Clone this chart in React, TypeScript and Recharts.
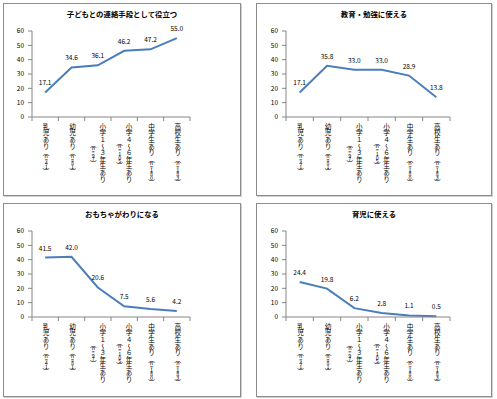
import { LineChart, Line, XAxis, YAxis, LabelList } from 'recharts';

// 子どもの年齢層別（あり）
const CATEGORIES = [
  '乳児あり（n=41）',
  '幼児あり（n=81）',
  '小学１～３年生あり\n（n=97）',
  '小学４～６年生あり\n（n=105）',
  '中学生あり（n=180）',
  '高校生あり（n=183）',
];

const TITLES = ['子どもとの連絡手段として役立つ', '教育・勉強に使える', 'おもちゃがわりになる', '育児に使える'];

const CONTACT = [17.1, 34.6, 36.1, 46.2, 47.2, 55.0];
const STUDY = [17.1, 35.8, 33.0, 33.0, 28.9, 13.8];
const TOY = [41.5, 42.0, 20.6, 7.5, 5.6, 4.2];
const PARENTING = [24.4, 19.8, 6.2, 2.8, 1.1, 0.5];

const Y_TICKS = [0, 10, 20, 30, 40, 50, 60];

const FONT = "'Noto Sans CJK JP', 'Noto Sans', sans-serif";
const LINE_COLOR = '#4a7ebb';
const AXIS_COLOR = '#868686';

const PANELS = [
  { title: TITLES[0], values: CONTACT, left: 3, top: 3, width: 238, height: 193, plotLeft: 29, plotWidth: 158 },
  { title: TITLES[1], values: STUDY, left: 256, top: 3, width: 236, height: 193, plotLeft: 30, plotWidth: 164 },
  { title: TITLES[2], values: TOY, left: 3, top: 203, width: 238, height: 194, plotLeft: 29, plotWidth: 158 },
  { title: TITLES[3], values: PARENTING, left: 256, top: 203, width: 236, height: 194, plotLeft: 30, plotWidth: 164 },
];

const PLOT_TOP = 28;
const PLOT_HEIGHT = 86;
const Y_AXIS_WIDTH = 20;
const X_AXIS_HEIGHT = 70;

const CJK_SIZE = 6.6;
const HALF_SIZE = 5.4;
const HALF_STEP = 3.8;
const PAREN_STEP = 3.8;

type Kind = 'cjk' | 'half' | 'paren';
const kindOf = (ch: string): Kind =>
  ch === '（' || ch === '）' ? 'paren' : ch.charCodeAt(0) < 0x100 ? 'half' : 'cjk';
const stepOf = (k: Kind) => (k === 'cjk' ? CJK_SIZE : k === 'half' ? HALF_STEP : PAREN_STEP);
const columnLength = (s: string) => [...s].reduce((a, ch) => a + stepOf(kindOf(ch)), 0);

// 文字種ごとに分割
function splitRuns(s: string) {
  const runs: { kind: Kind; text: string }[] = [];
  for (const ch of s) {
    const kind = kindOf(ch);
    const last = runs[runs.length - 1];
    if (last && last.kind === kind) last.text += ch;
    else runs.push({ kind, text: ch });
  }
  return runs;
}

// 縦書きラベル
function VerticalColumn({ x, y, text }: { x: number; y: number; text: string }) {
  return (
    <text
      x={x}
      y={y}
      fontFamily={FONT}
      fontSize={CJK_SIZE}
      fill="#000"
      style={{ writingMode: 'vertical-rl', textOrientation: 'upright' } as any}
    >
      {splitRuns(text).map((r, i) => {
        if (r.kind === 'half')
          return (
            <tspan key={i} fontSize={HALF_SIZE} letterSpacing={HALF_STEP - HALF_SIZE}>
              {r.text}
            </tspan>
          );
        if (r.kind === 'paren')
          return (
            <tspan key={i} letterSpacing={PAREN_STEP - CJK_SIZE}>
              {r.text}
            </tspan>
          );
        return <tspan key={i}>{r.text}</tspan>;
      })}
    </text>
  );
}

function makeCategoryTick(axisY: number, band: number) {
  return function CategoryTick(props: any) {
    const { x, payload, index } = props;
    const lines = String(payload.value).split('\n');
    const top = axisY + 6;
    const mainLen = columnLength(lines[0]);
    return (
      <g>
        {index === 0 && (
          <line x1={x - band / 2} y1={axisY} x2={x - band / 2} y2={axisY + 4} stroke={AXIS_COLOR} />
        )}
        <line x1={x + band / 2} y1={axisY} x2={x + band / 2} y2={axisY + 4} stroke={AXIS_COLOR} />
        {lines.length === 1 ? (
          <VerticalColumn x={x + 1} y={top} text={lines[0]} />
        ) : (
          <>
            <VerticalColumn x={x + 5} y={top} text={lines[0]} />
            <VerticalColumn x={x - 4.5} y={top + (mainLen - columnLength(lines[1])) / 2} text={lines[1]} />
          </>
        )}
      </g>
    );
  };
}

function Panel({ title, values, left, top, width, height, plotLeft, plotWidth }: (typeof PANELS)[number]) {
  const data = CATEGORIES.map((name, i) => ({ name, value: values[i] }));
  const axisY = PLOT_TOP + PLOT_HEIGHT;
  const band = plotWidth / CATEGORIES.length;
  const Tick = makeCategoryTick(axisY, band);
  return (
    <div
      style={{
        position: 'absolute',
        left,
        top,
        width,
        height,
        boxSizing: 'border-box',
        border: '1px solid #8c8c8c',
        boxShadow: '1px 1px 0 #d0d0d0',
        background: '#fff',
      }}
    >
      <div
        style={{
          position: 'absolute',
          left: -1,
          top: 5,
          width,
          textAlign: 'center',
          fontFamily: FONT,
          fontWeight: 'bold',
          fontSize: 7.4,
          lineHeight: '10px',
          color: '#000',
        }}
      >
        {title}
      </div>
      <div style={{ position: 'absolute', left: -1, top: -1 }}>
        <LineChart
          width={width}
          height={height}
          data={data}
          margin={{
            top: PLOT_TOP,
            left: plotLeft - Y_AXIS_WIDTH,
            right: width - plotLeft - plotWidth,
            bottom: height - PLOT_TOP - PLOT_HEIGHT - X_AXIS_HEIGHT,
          }}
        >
          <XAxis
            dataKey="name"
            interval={0}
            height={X_AXIS_HEIGHT}
            padding={{ left: band / 2, right: band / 2 }}
            tickLine={false}
            axisLine={{ stroke: AXIS_COLOR }}
            tick={<Tick />}
          />
          <YAxis
            type="number"
            domain={[0, 60]}
            ticks={Y_TICKS}
            width={Y_AXIS_WIDTH}
            tickSize={4}
            tickMargin={4}
            axisLine={{ stroke: AXIS_COLOR }}
            tickLine={{ stroke: AXIS_COLOR }}
            tick={{ fontSize: 6.5, fill: '#000', fontFamily: FONT }}
          />
          <Line
            type="linear"
            dataKey="value"
            stroke={LINE_COLOR}
            strokeWidth={2}
            dot={false}
            isAnimationActive={false}
          >
            <LabelList
              dataKey="value"
              position="top"
              offset={7}
              fontSize={6.5}
              fill="#000"
              fontFamily={FONT}
              formatter={(v: any) => Number(v).toFixed(1)}
            />
          </Line>
        </LineChart>
      </div>
    </div>
  );
}

export default function App() {
  return (
    <div style={{ position: 'absolute', left: 0, top: 0, width: 497, height: 399, background: '#fff' }}>
      {PANELS.map((p) => (
        <Panel key={p.title} {...p} />
      ))}
    </div>
  );
}
